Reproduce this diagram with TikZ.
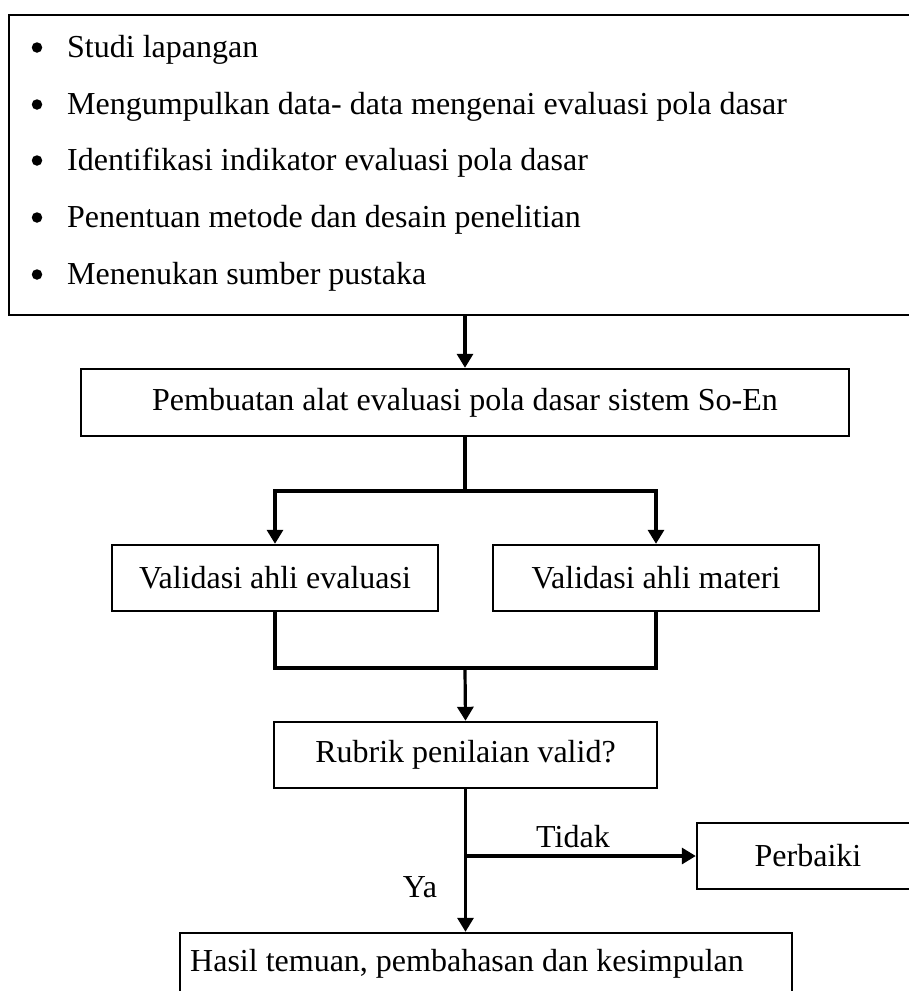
\documentclass[tikz,border=0pt]{standalone}
\usepackage{fontspec}
\setmainfont{Liberation Serif}
\usetikzlibrary{arrows.meta}
\begin{document}
\begin{tikzpicture}[x=1pt,y=-1pt,
  box/.style={draw,line width=2.4pt,inner sep=0pt,font=\fontsize{32}{38}\selectfont},
  conn/.style={line width=3.2pt},
  arr/.style={conn,-{Triangle[length=14pt,width=16pt]}},
  lbl/.style={inner sep=0pt,font=\fontsize{32}{38}\selectfont},
  dot/.style={circle,fill,inner sep=0pt,minimum size=10.5pt}]
\clip (0,0) rectangle (909,991);
\fill[white] (0,0) rectangle (909,991);
% top box
\node[box,minimum width=921pt,minimum height=300pt] (top) at (469.5,165) {};
\node[dot] (d1) at (37,47.5) {};
\node[dot] (d2) at (37,104.5) {};
\node[dot] (d3) at (37,160.5) {};
\node[dot] (d4) at (37,217.5) {};
\node[dot] (d5) at (37,274.5) {};
\node[lbl,anchor=base west] (i1) at (67,57) {Studi lapangan};
\node[lbl,anchor=base west] (i2) at (67,114) {Mengumpulkan data- data mengenai evaluasi pola dasar};
\node[lbl,anchor=base west] (i3) at (67,170) {Identifikasi indikator evaluasi pola dasar};
\node[lbl,anchor=base west] (i4) at (67,227) {Penentuan metode dan desain penelitian};
\node[lbl,anchor=base west] (i5) at (67,284) {Menenukan sumber pustaka};
% boxes
\node[box,minimum width=768pt,minimum height=67pt] (mk) at (465,402.5) {Pembuatan alat evaluasi pola dasar sistem So-En};
\node[box,minimum width=326pt,minimum height=66pt] (vl) at (275,578) {Validasi ahli evaluasi};
\node[box,minimum width=326pt,minimum height=66pt] (vr) at (656,578) {Validasi ahli materi};
\node[box,minimum width=383pt,minimum height=66pt] (rv) at (465.5,755) {Rubrik penilaian valid?};
\node[box,minimum width=222pt,minimum height=66pt] (pb) at (808,856) {Perbaiki};
\node[box,minimum width=612pt,minimum height=80pt] (hs) at (486,973) {};
\node[lbl,anchor=base west] (hst) at (190,971) {Hasil temuan, pembahasan dan kesimpulan};
% connectors
\draw[arr] (mk.north |- top.south) -- (mk.north);
\coordinate (j1) at (465,491);
\draw[conn] (mk.south) -- (j1);
\draw[arr] (j1) -| (vl.north);
\draw[arr] (j1) -| (vr.north);
\coordinate (j2) at (465,668);
\draw[conn] (vl.south) -- (vl.south |- j2) -- (vr.south |- j2) -- (vr.south);
\draw[arr] ([yshift=-1.6pt]j2) -- (rv.north);
\draw[arr] (rv.south) -- (rv.south |- hs.north);
\draw[arr] (rv.south |- pb.west) -- (pb.west);
\node[lbl,anchor=base] (tidak) at (573,847) {Tidak};
\node[lbl,anchor=base] (ya) at (420,897) {Ya};
\end{tikzpicture}
\end{document}
